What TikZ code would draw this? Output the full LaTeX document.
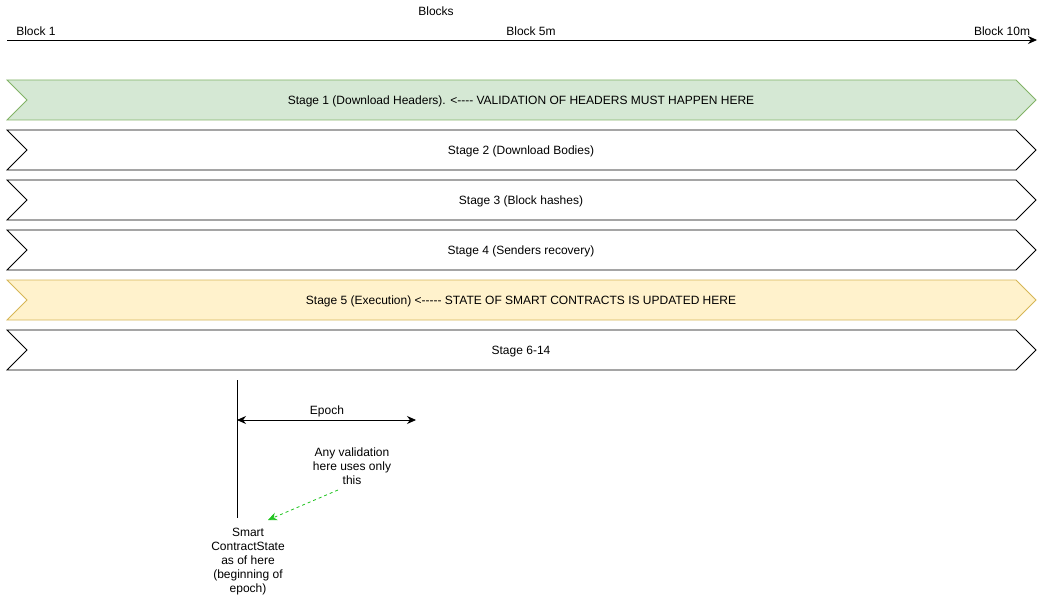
\documentclass[tikz,border=0pt]{standalone}
\usepackage{fontspec}
\setmainfont{Liberation Sans}
\usetikzlibrary{arrows.meta}
\definecolor{hdrfill}{HTML}{D5E8D4}
\definecolor{hdrline}{HTML}{82B366}
\definecolor{exfill}{HTML}{FFF2CC}
\definecolor{exline}{HTML}{D6B656}
\definecolor{hintgreen}{HTML}{22C422}

\begin{document}
\begin{tikzpicture}[x=1pt,y=-1pt]
\tikzset{
  every node/.style={font=\fontsize{12}{14}\selectfont, inner sep=0pt},
  stagebar/.style={draw=black, fill=white, line width=0.8pt},
  axisline/.style={line width=0.8pt, -{Stealth[length=9pt,width=8pt]}},
  epochline/.style={line width=0.8pt, {Stealth[length=9pt,width=8pt]}-{Stealth[length=9pt,width=8pt]}},
}
\useasboundingbox (0,0) rectangle (1046,596);
% block axis
\coordinate (axstart) at (7,40);
\coordinate (axend) at (1037,40);
\draw [axisline] (axstart) -- (axend);
\node (blocks) at (436,11) {Blocks};
\node (blk1) at (36,31) {Block 1};
\node (blk5m) at (531,31) {Block 5m};
\node (blk10m) at (1002,31) {Block 10m};
% stages
\draw [stagebar, draw=hdrline, fill=hdrfill] (7,80) -- (1016,80) -- (1036,100) -- (1016,120) -- (7,120) -- (27,100) -- cycle;
\node (st1) at (521,101.5) {Stage 1 (Download Headers). <{-}{-}{-}{-} VALIDATION OF HEADERS MUST HAPPEN HERE};
\draw [stagebar] (7,130) -- (1016,130) -- (1036,150) -- (1016,170) -- (7,170) -- (27,150) -- cycle;
\node (st2) at (521,151.5) {Stage 2 (Download Bodies)};
\draw [stagebar] (7,180) -- (1016,180) -- (1036,200) -- (1016,220) -- (7,220) -- (27,200) -- cycle;
\node (st3) at (521,201.5) {Stage 3 (Block hashes)};
\draw [stagebar] (7,230) -- (1016,230) -- (1036,250) -- (1016,270) -- (7,270) -- (27,250) -- cycle;
\node (st4) at (521,251.5) {Stage 4 (Senders recovery)};
\draw [stagebar, draw=exline, fill=exfill] (7,280) -- (1016,280) -- (1036,300) -- (1016,320) -- (7,320) -- (27,300) -- cycle;
\node (st5) at (521,301.5) {Stage 5 (Execution) <{-}{-}{-}{-}{-} STATE OF SMART CONTRACTS IS UPDATED HERE};
\draw [stagebar] (7,330) -- (1016,330) -- (1036,350) -- (1016,370) -- (7,370) -- (27,350) -- cycle;
\node (st6) at (521,351.5) {Stage 6-14};
% epoch
\coordinate (marktop) at (237,380);
\coordinate (markbot) at (237,518);
\draw [line width=0.8pt] (marktop) -- (markbot);
\coordinate (epstart) at (237,420);
\coordinate (epend) at (416,420);
\draw [epochline] (epstart) -- (epend);
\node (epoch) at (327,411.5) {Epoch};
\node (anyval) [align=center] at (352,466.5) {Any validation\\here uses only\\this};
\node (smartst) [align=center] at (248,561.5) {Smart\\ContractState\\as of here\\(beginning of\\epoch)};
\coordinate (hintfrom) at (338,490);
\coordinate (hintto) at (268,520);
\draw [hintgreen, dashed, line width=0.8pt, -{Stealth[length=9pt,width=8pt]}] (hintfrom) -- (hintto);
\end{tikzpicture}
\end{document}
